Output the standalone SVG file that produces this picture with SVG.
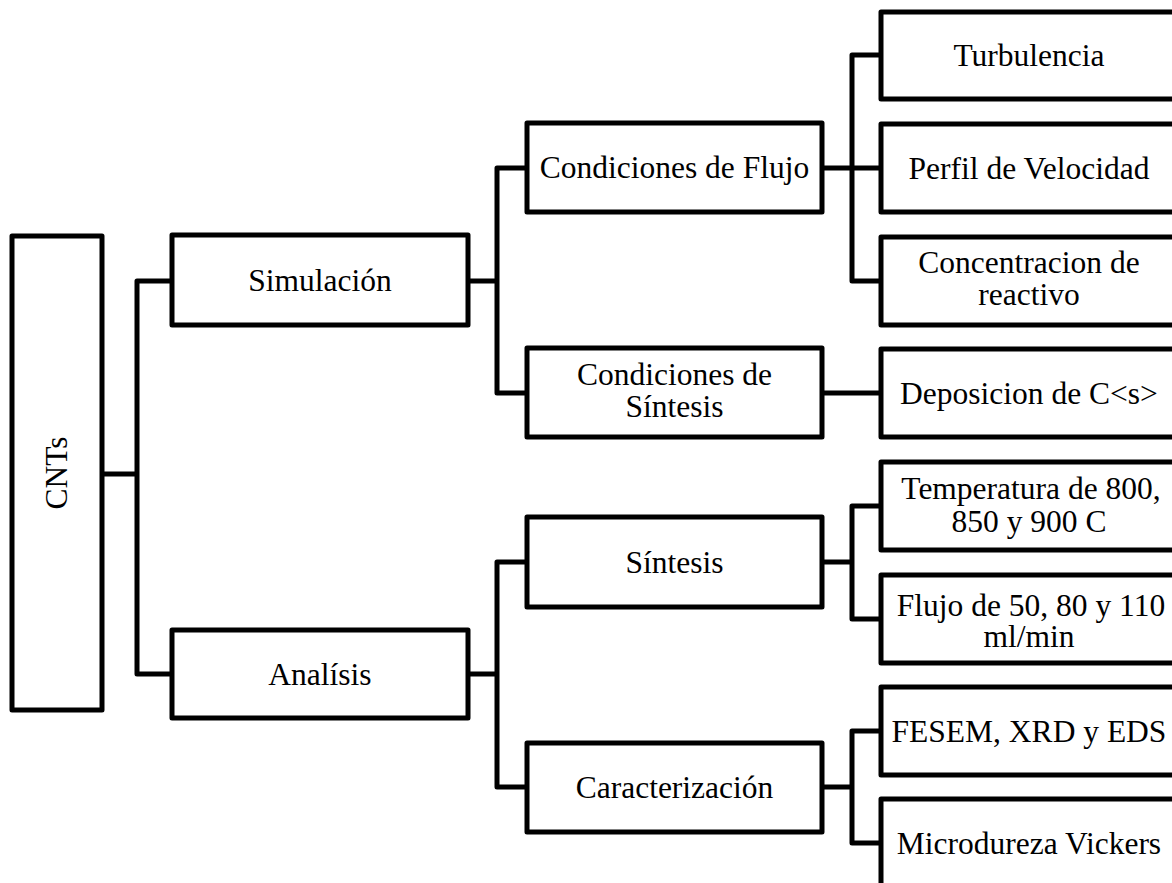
<svg xmlns="http://www.w3.org/2000/svg" width="1172" height="883" viewBox="0 0 1172 883">
<style>
.box{fill:#fff;stroke:#000;stroke-width:5;stroke-linejoin:round}
.con{fill:none;stroke:#000;stroke-width:5;stroke-linejoin:round}
text{font-family:"Liberation Serif","Times New Roman",serif;font-size:31.5px;fill:#000;text-anchor:middle}
</style>
<rect width="1172" height="883" fill="#fff"/>
<g id="connectors">
<path class="con" d="M102 474H137M172 281H137V674H172"/>
<path class="con" d="M468 281H497M527 168H497V393H527"/>
<path class="con" d="M468 674H497M527 562H497V787H527"/>
<path class="con" d="M822 168H881M881 55H852V281H881"/>
<path class="con" d="M822 393H881"/>
<path class="con" d="M822 562H852M881 506H852V619H881"/>
<path class="con" d="M822 787H852M881 731H852V843H881"/>
</g>
<g id="n-cnts"><rect class="box" x="12" y="236" width="90" height="474"/><text transform="translate(67 473) rotate(-90)" x="0" y="0">CNTs</text></g>
<g id="n-simulacion"><rect class="box" x="172" y="235" width="296" height="90"/><text x="320" y="290.5">Simulación</text></g>
<g id="n-analisis"><rect class="box" x="172" y="630" width="296" height="88"/><text x="320" y="684.5">Analísis</text></g>
<g id="n-condflujo"><rect class="box" x="527" y="123" width="295" height="89"/><text x="674.5" y="178">Condiciones de Flujo</text></g>
<g id="n-condsintesis"><rect class="box" x="527" y="348" width="295" height="89"/><text x="674.5" y="385">Condiciones de</text><text x="674.5" y="417">Síntesis</text></g>
<g id="n-sintesis"><rect class="box" x="527" y="517" width="295" height="90"/><text x="674.5" y="572.5">Síntesis</text></g>
<g id="n-caracterizacion"><rect class="box" x="527" y="743" width="295" height="89"/><text x="674.5" y="798">Caracterización</text></g>
<g id="n-turbulencia"><rect class="box" x="881" y="12" width="296" height="87"/><text x="1029" y="66">Turbulencia</text></g>
<g id="n-perfil"><rect class="box" x="881" y="124" width="296" height="88"/><text x="1029" y="178.5">Perfil de Velocidad</text></g>
<g id="n-concentracion"><rect class="box" x="881" y="237" width="296" height="88"/><text x="1029" y="273">Concentracion de</text><text x="1029" y="305">reactivo</text></g>
<g id="n-deposicion"><rect class="box" x="881" y="349" width="296" height="88"/><text x="1029" y="403.5">Deposicion de C&lt;s&gt;</text></g>
<g id="n-temperatura"><rect class="box" x="881" y="462" width="296" height="88"/><text x="1031" y="499">Temperatura de 800,</text><text x="1029" y="532">850 y 900 C</text></g>
<g id="n-flujo"><rect class="box" x="881" y="575" width="296" height="88"/><text x="1031" y="616">Flujo de 50, 80 y 110</text><text x="1029" y="647">ml/min</text></g>
<g id="n-fesem"><rect class="box" x="881" y="687" width="296" height="88"/><text x="1029" y="741.5">FESEM, XRD y EDS</text></g>
<g id="n-microdureza"><rect class="box" x="881" y="799" width="296" height="90"/><text x="1029" y="853.5">Microdureza Vickers</text></g>
</svg>
